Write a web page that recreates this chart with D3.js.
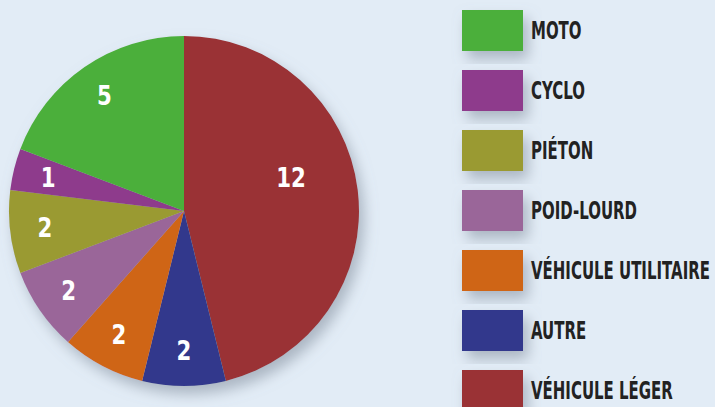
<!DOCTYPE html>
<html>
<head>
<meta charset="utf-8">
<script src="https://cdn.jsdelivr.net/npm/d3@7"></script>
<style>
  body { margin: 0; background: #e2ecf6; }
  svg { display: block; }
</style>
</head>
<body>
<div id="chart"></div>
<script>
////
// DATA
////
// slices in drawing order, clockwise from 12 o'clock
const categories = ["VÉHICULE LÉGER", "AUTRE", "VÉHICULE UTILITAIRE", "POID-LOURD", "PIÉTON", "CYCLO", "MOTO"];
const values = [12, 2, 2, 2, 2, 1, 5];
const colors = ["#9a3336", "#33398c", "#cf6516", "#9a6699", "#9a9a32", "#8e3a8c", "#4caf3a"];
// legend goes top to bottom in this order
const legend_order = ["MOTO", "CYCLO", "PIÉTON", "POID-LOURD", "VÉHICULE UTILITAIRE", "AUTRE", "VÉHICULE LÉGER"];

const width = 715, height = 407;
const font = "'DejaVu Sans', sans-serif";

const svg = d3.select("#chart")
    .append("svg")
    .attr("width", width)
    .attr("height", height);

svg.append("rect").attr("width", width).attr("height", height).attr("fill", "#e2ecf6");

// soft shadow used by pie + swatches
const defs = svg.append("defs");
const shadow = defs.append("filter").attr("id", "shadow")
    .attr("x", "-30%").attr("y", "-30%").attr("width", "160%").attr("height", "160%");
shadow.append("feDropShadow")
    .attr("dx", 5).attr("dy", 8).attr("stdDeviation", 7)
    .attr("flood-color", "#7d8898").attr("flood-opacity", 0.55);

const color = d3.scaleOrdinal().domain(categories).range(colors);

////
// PIE
////
const cx = 184, cy = 211, radius = 175;

const pie = d3.pie().sort(null).value(d => d.value);
const arc = d3.arc().innerRadius(0).outerRadius(radius);

const slices = pie(categories.map((c, i) => ({ name: c, value: values[i] })));

const pie_g = svg.append("g").attr("transform", `translate(${cx},${cy})`);

pie_g.append("g").attr("filter", "url(#shadow)")
    .selectAll("path")
    .data(slices)
    .enter()
    .append("path")
    .attr("d", arc)
    .attr("fill", d => color(d.data.name));

// labels sit fairly far out, the big slice gets pulled in
function labelPos(d) {
    let a = (d.startAngle + d.endAngle) / 2;
    let r = radius * 0.8;
    if (d.endAngle - d.startAngle > Math.PI * 0.8) { a -= 0.18; r = radius * 0.64; }
    return [Math.sin(a) * r, -Math.cos(a) * r];
}

pie_g.selectAll(".pie_label")
    .data(slices)
    .enter()
    .append("text")
    .attr("class", "pie_label")
    .attr("transform", d => `translate(${labelPos(d)[0]},${labelPos(d)[1]}) scale(0.82,1)`)
    .attr("dy", "0.36em")
    .attr("text-anchor", "middle")
    .attr("fill", "#ffffff")
    .style("font-family", font)
    .style("font-weight", "bold")
    .style("font-size", "26px")
    .text(d => d.data.value);

////
// LEGEND
////
const legend_y = d3.scaleBand().domain(legend_order).range([10, 430]).paddingInner(0);

const legend = svg.selectAll(".legend_item")
    .data(legend_order)
    .enter()
    .append("g")
    .attr("class", "legend_item")
    .attr("transform", d => `translate(462, ${legend_y(d)})`);

legend.append("rect")
    .attr("width", 61)
    .attr("height", 41)
    .attr("fill", d => color(d))
    .attr("filter", "url(#shadow)");

const legend_text = legend.append("g")
    .attr("transform", "translate(69, 20.5)")
    .append("text")
    .attr("dy", "0.36em")
    .attr("fill", "#222222")
    .style("font-family", font)
    .style("font-weight", "bold")
    .style("font-size", "24px")
    .text(d => d);

// squeeze the text so the longest label is as wide as in the reference
let longest = 0;
legend_text.each(function () { longest = Math.max(longest, this.getComputedTextLength()); });
const squeeze = 179 / longest;
legend_text.attr("transform", `scale(${squeeze},1)`);
</script>
</body>
</html>
